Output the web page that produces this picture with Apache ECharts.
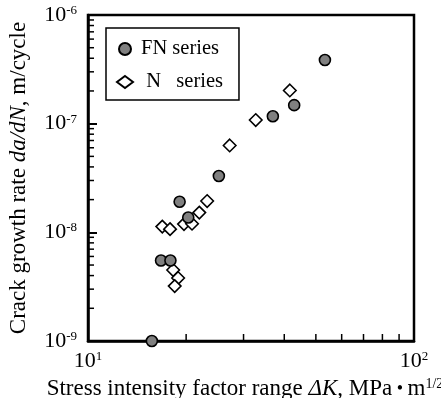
<!DOCTYPE html>
<html><head><meta charset="utf-8">
<script src="https://cdn.jsdelivr.net/npm/echarts@6/dist/echarts.min.js"></script>
<style>html,body{margin:0;padding:0;background:#fff}#c{width:441px;height:398px}</style>
</head><body><div id="c"></div>
<script>
// ---- data ----
const seriesNames = ['FN series', ' N   series'];
const fnK    = [15.7, 16.75, 17.9, 19.1, 20.3, 25.2, 36.9, 42.9, 53.3];
const fnRate = [1.0e-9, 5.5e-9, 5.5e-9, 1.91e-8, 1.37e-8, 3.3e-8, 1.17e-7, 1.48e-7, 3.85e-7];
const nK     = [16.9, 17.85, 18.25, 18.9, 18.45, 19.7, 20.85, 21.95, 23.2, 27.2, 32.7, 41.6];
const nRate  = [1.13e-8, 1.07e-8, 4.5e-9, 3.8e-9, 3.2e-9, 1.19e-8, 1.2e-8, 1.52e-8, 1.94e-8, 6.3e-8, 1.08e-7, 2.02e-7];
const xTickExponents = {1: '1', 2: '2'};
const yTickExponents = {'-9': '-9', '-8': '-8', '-7': '-7', '-6': '-6'};
const xMinorTicks = [20, 30, 40, 50, 60, 70, 80, 90];
const yMinorTicks = [2e-9, 3e-9, 4e-9, 5e-9, 6e-9, 7e-9, 8e-9, 9e-9,
                     2e-8, 3e-8, 4e-8, 5e-8, 6e-8, 7e-8, 8e-8, 9e-8,
                     2e-7, 3e-7, 4e-7, 5e-7, 6e-7, 7e-7, 8e-7, 9e-7];
const xMin = 10, xMax = 100, yMin = 1e-9, yMax = 1e-6;

const FONT = 'Liberation Serif';
const supRich = {
  b: {fontFamily: FONT, fontSize: 22, lineHeight: 22, color: '#000'},
  s: {fontFamily: FONT, fontSize: 13, lineHeight: 10, color: '#000', verticalAlign: 'top'}
};
const nameRich = {
  n: {fontFamily: FONT, fontSize: 23, lineHeight: 24, color: '#000'},
  i: {fontFamily: FONT, fontSize: 23, lineHeight: 24, color: '#000', fontStyle: 'italic'},
  d: {fontFamily: FONT, fontSize: 18, lineHeight: 24, color: '#000'},
  s: {fontFamily: FONT, fontSize: 14, lineHeight: 12, color: '#000', verticalAlign: 'top'}
};

function expOf(v) { return String(Math.round(Math.log10(v))); }

const chart = echarts.init(document.getElementById('c'), null, {renderer: 'canvas'});
chart.setOption({
  animation: false,
  backgroundColor: '#fff',
  grid: {left: 88, top: 15, right: 27, bottom: 57, outerBoundsMode: 'none', containLabel: false,
         show: true, borderColor: '#000', borderWidth: 2.5, backgroundColor: 'transparent'},
  legend: {
    orient: 'vertical', left: 106, top: 28,
    data: seriesNames,
    selectedMode: false,
    backgroundColor: '#fff',
    borderColor: '#000', borderWidth: 1.5,
    padding: [10, 16, 7, 10],
    itemWidth: 16, itemHeight: 12, itemGap: 11,
    textStyle: {fontFamily: FONT, fontSize: 20.5, lineHeight: 22, color: '#000', padding: [0, 0, 0, 3]}
  },
  xAxis: {
    type: 'log', logBase: 10, min: xMin, max: xMax,
    axisLine: {show: true, lineStyle: {color: '#000', width: 2.5}},
    axisTick: {show: true, inside: true, length: 8, lineStyle: {color: '#000', width: 1.5}},
    splitLine: {show: false},
    axisLabel: {margin: 9, formatter: v => '{b|10}{s|' + xTickExponents[expOf(v)] + '}', rich: supRich},
    name: '{n|Stress intensity factor range }{i|ΔK}{n|, MPa}{d| • }{n|m}{s|1/2}',
    nameLocation: 'middle', nameGap: 34,
    nameTextStyle: {rich: nameRich, padding: [0, 12, 0, 0]}
  },
  yAxis: {
    type: 'log', logBase: 10, min: yMin, max: yMax,
    axisLine: {show: true, lineStyle: {color: '#000', width: 2.5}},
    axisTick: {show: true, inside: true, length: 9, lineStyle: {color: '#000', width: 2}},
    splitLine: {show: false},
    axisLabel: {margin: 11, formatter: v => '{b|10}{s|' + yTickExponents[expOf(v)] + '}', rich: supRich},
    name: '{n|Crack growth rate }{i|da/dN}{n|, m/cycle}',
    nameLocation: 'middle', nameGap: 57,
    nameTextStyle: {rich: nameRich}
  },
  series: [
    {
      type: 'custom', name: 'xminor', silent: true, z: 1,
      data: xMinorTicks.map(v => [v, yMin]),
      encode: {x: 0, y: 1},
      renderItem: (params, api) => {
        const p = api.coord([api.value(0), api.value(1)]);
        return {type: 'line', shape: {x1: p[0], y1: p[1], x2: p[0], y2: p[1] - 7}, style: {stroke: '#000', lineWidth: 1.5}};
      }
    },
    {
      type: 'custom', name: 'yminor', silent: true, z: 1,
      data: yMinorTicks.map(v => [xMin, v]),
      encode: {x: 0, y: 1},
      renderItem: (params, api) => {
        const p = api.coord([api.value(0), api.value(1)]);
        return {type: 'line', shape: {x1: p[0], y1: p[1], x2: p[0] + 6, y2: p[1]}, style: {stroke: '#000', lineWidth: 1.5}};
      }
    },
    {
      type: 'scatter', name: seriesNames[1], z: 3,
      symbol: 'diamond', symbolSize: 12.5,
      itemStyle: {color: '#fff', borderColor: '#000', borderWidth: 1.6, opacity: 1},
      data: nK.map((k, i) => [k, nRate[i]])
    },
    {
      type: 'scatter', name: seriesNames[0], z: 4,
      symbol: 'circle', symbolSize: 11,
      itemStyle: {color: '#808080', borderColor: '#000', borderWidth: 1.6, opacity: 1},
      data: fnK.map((k, i) => [k, fnRate[i]])
    }
  ]
});
</script>
</body></html>
